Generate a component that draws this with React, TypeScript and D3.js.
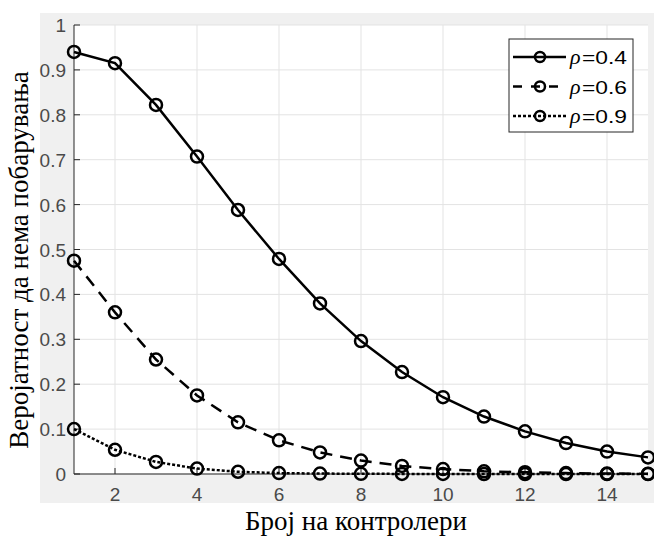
import React, { useEffect, useRef } from "react";
import * as d3 from "d3";

const controllers = [1, 2, 3, 4, 5, 6, 7, 8, 9, 10, 11, 12, 13, 14, 15];
const rho04 = [0.94, 0.915, 0.822, 0.707, 0.588, 0.479, 0.38, 0.296, 0.227, 0.171, 0.128, 0.095, 0.069, 0.05, 0.037];
const rho06 = [0.475, 0.36, 0.255, 0.175, 0.115, 0.075, 0.048, 0.03, 0.018, 0.011, 0.006, 0.004, 0.002, 0.001, 0.0005];
const rho09 = [0.1, 0.054, 0.027, 0.012, 0.005, 0.002, 0.001, 0.0005, 0.0002, 0.0001, 0, 0, 0, 0, 0];
const seriesNames = ["0.4", "0.6", "0.9"];
const xTicks = [2, 4, 6, 8, 10, 12, 14];
const yTicks = [0, 0.1, 0.2, 0.3, 0.4, 0.5, 0.6, 0.7, 0.8, 0.9, 1];

const dashes = ["none", "12,8", "3,2"];

const App = () => {
  const ref = useRef<SVGSVGElement>(null);

  useEffect(() => {
    const svg = d3.select(ref.current);
    svg.selectAll("*").remove();
    const left = 74, right = 648, top = 25, bottom = 474;
    const x = d3.scaleLinear().domain([1, 15]).range([left, right]);
    const y = d3.scaleLinear().domain([0, 1]).range([bottom, top]);

    svg.append("rect").attr("x", 40).attr("y", 13).attr("width", 614).attr("height", 490).attr("fill", "#f0f0f0");
    svg.append("rect").attr("x", left).attr("y", top).attr("width", right - left).attr("height", bottom - top).attr("fill", "#fff");

    // grid
    const grid = svg.append("g").attr("stroke", "#e3e3e3").attr("stroke-width", 1);
    xTicks.forEach((t) => {
      grid.append("line").attr("x1", x(t)).attr("x2", x(t)).attr("y1", top).attr("y2", bottom);
    });
    yTicks.forEach((t) => {
      grid.append("line").attr("x1", left).attr("x2", right).attr("y1", y(t)).attr("y2", y(t));
    });

    // axes
    const ax = svg.append("g").attr("stroke", "#262626").attr("stroke-width", 1);
    ax.append("line").attr("x1", left).attr("x2", left).attr("y1", top).attr("y2", bottom);
    ax.append("line").attr("x1", left).attr("x2", right).attr("y1", bottom).attr("y2", bottom);
    xTicks.forEach((t) => {
      ax.append("line").attr("x1", x(t)).attr("x2", x(t)).attr("y1", bottom).attr("y2", bottom - 6);
    });
    yTicks.forEach((t) => {
      ax.append("line").attr("x1", left).attr("x2", left + 6).attr("y1", y(t)).attr("y2", y(t));
    });

    const lab = svg.append("g").attr("font-family", "Liberation Sans, Arial, sans-serif").attr("font-size", "19px").attr("fill", "#4a4a4a");
    xTicks.forEach((t) => {
      lab.append("text").attr("x", x(t)).attr("y", bottom + 27).attr("text-anchor", "middle").text(t);
    });
    yTicks.forEach((t) => {
      lab.append("text").attr("x", left - 8).attr("y", y(t) + 7).attr("text-anchor", "end").text(t);
    });

    // series
    const all = [rho04, rho06, rho09];
    const line = d3.line<number>().x((_, i) => x(controllers[i])).y((d) => y(d));
    all.forEach((vals, k) => {
      svg.append("path").attr("d", line(vals)).attr("fill", "none").attr("stroke", "#000")
        .attr("stroke-width", 2.5).attr("stroke-dasharray", dashes[k]);
      svg.append("g").selectAll("circle").data(vals).join("circle")
        .attr("cx", (_, i) => x(controllers[i])).attr("cy", (d) => y(d)).attr("r", 6)
        .attr("fill", "none").attr("stroke", "#000").attr("stroke-width", 2.5);
    });

    // legend
    const lg = svg.append("g");
    lg.append("rect").attr("x", 509).attr("y", 39).attr("width", 124).attr("height", 93)
      .attr("fill", "#fff").attr("stroke", "#262626").attr("stroke-width", 1);
    seriesNames.forEach((name, k) => {
      const ly = 57 + k * 29.5;
      lg.append("line").attr("x1", 513).attr("x2", 566).attr("y1", ly).attr("y2", ly)
        .attr("stroke", "#000").attr("stroke-width", 2.5)
        .attr("stroke-dasharray", k === 1 ? "9,9" : dashes[k]);
      lg.append("circle").attr("cx", 540).attr("cy", ly).attr("r", 5).attr("fill", "none")
        .attr("stroke", "#000").attr("stroke-width", 2.5);
      lg.append("text").attr("x", 570).attr("y", ly + 7).attr("font-size", "22px")
        .attr("font-family", "Liberation Serif, serif").attr("font-style", "italic").attr("fill", "#000")
        .text("ρ");
      lg.append("text").attr("x", 582).attr("y", ly + 7).attr("font-size", "19px")
        .attr("font-family", "Liberation Sans, Arial, sans-serif").attr("fill", "#000")
        .attr("textLength", 45).attr("lengthAdjust", "spacingAndGlyphs")
        .text("=" + name);
    });

    // axis titles
    svg.append("text").attr("x", (left + right) / 2 - 5).attr("y", 530).attr("text-anchor", "middle")
      .attr("font-family", "Liberation Serif, Times New Roman, serif").attr("font-size", "27px").attr("fill", "#000")
      .text("Број на контролери");
    svg.append("text").attr("transform", `translate(28,${260}) rotate(-90)`).attr("text-anchor", "middle")
      .attr("font-family", "Liberation Serif, Times New Roman, serif").attr("font-size", "27px").attr("fill", "#000")
      .text("Веројатност да нема побарувања");
  }, []);

  return <svg ref={ref} width={654} height={536} style={{ position: "absolute", left: 0, top: 0, background: "#fff" }} />;
};

export default App;
